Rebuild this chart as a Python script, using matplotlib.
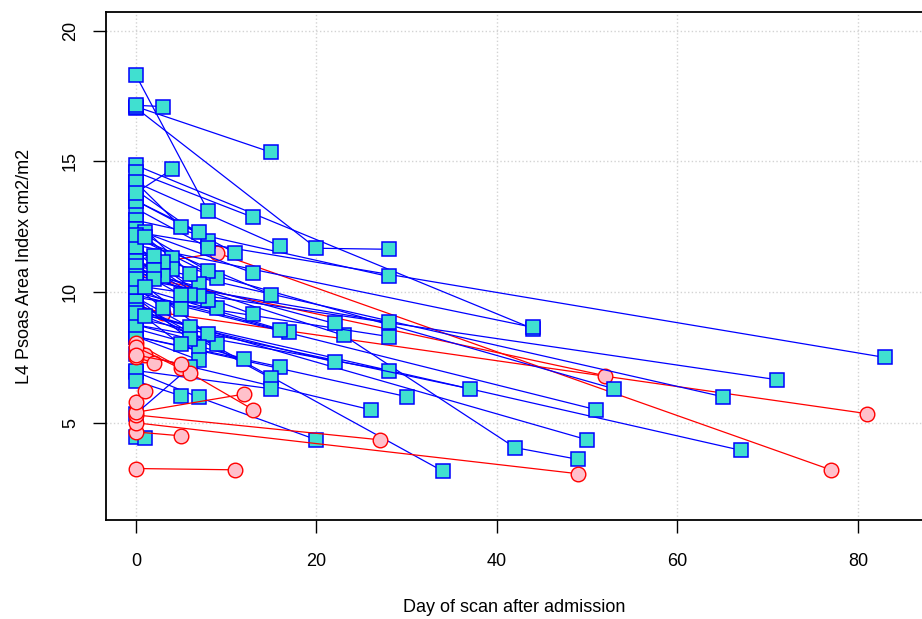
import matplotlib.pyplot as plt

# blue = squares, red = circles; one list of scan days / values per patient
blue_days = [
    [0, 83], [0, 71], [0, 67], [0, 65], [0, 53], [0, 51], [0, 50], [0, 23, 42, 49],
    [0, 44], [0, 44], [0, 20, 28], [0, 28], [0, 28], [0, 28], [0, 28], [0, 37],
    [0, 34], [0, 30], [0, 26], [0, 22], [0, 22], [0, 7, 20], [0, 17], [0, 16],
    [0, 16], [0, 16], [0, 15], [0, 15], [0, 15], [0, 15], [0, 13], [0, 13],
    [0, 13], [0, 12], [0, 11], [0, 9], [0, 9], [0, 9], [0, 8], [0, 8],
    [0, 8], [0, 8], [0, 8], [0, 8], [0, 7], [0, 7], [0, 7], [0, 7],
    [0, 7], [0, 6], [0, 6], [0, 6], [0, 6], [0, 6], [0, 5], [0, 5],
    [0, 5], [0, 5], [0, 5], [0, 4], [0, 4], [0, 4], [0, 3], [0, 3],
    [0, 3], [0, 3], [0, 2], [0, 2], [0, 2], [0, 1], [0, 1], [0, 1],
    [0, 1], [0, 1],
]
blue_vals = [
    [12.3, 7.5], [10.25, 6.65], [9.2, 3.95], [11.1, 6.0], [11.5, 6.3], [9.9, 5.5], [9.3, 4.35], [10.9, 8.35, 4.05, 3.6],
    [14.85, 8.6], [11.8, 8.65], [17.05, 11.68, 11.64], [12.75, 10.6], [10.5, 8.85], [9.8, 8.3], [8.75, 7.0], [9.0, 6.3],
    [9.6, 3.15], [8.3, 6.0], [7.65, 5.5], [10.85, 8.8], [9.2, 7.33], [6.95, 5.97, 4.35], [10.2, 8.47], [14.2, 11.75],
    [10.0, 8.55], [8.3, 7.14], [17.1, 15.35], [12.1, 9.9], [9.5, 6.7], [7.0, 6.3], [14.6, 12.86], [12.4, 10.73],
    [10.8, 9.15], [8.6, 7.45], [13.5, 11.5], [12.1, 10.55], [11.2, 9.4], [9.2, 8.0], [18.3, 13.1], [13.9, 11.95],
    [13.2, 11.7], [12.4, 10.8], [11.7, 9.7], [10.5, 8.4], [13.5, 12.3], [11.2, 10.3], [11.5, 9.85], [9.8, 7.9],
    [8.3, 7.4], [12.75, 10.7], [11.0, 9.9], [9.8, 8.65], [8.75, 8.2], [5.35, 7.14], [14.2, 12.5], [10.85, 9.9],
    [10.2, 9.35], [9.3, 8.0], [6.6, 6.03], [13.8, 14.7], [12.4, 11.3], [11.7, 10.9], [17.15, 17.1], [11.7, 11.15],
    [11.2, 10.6], [10.2, 9.38], [11.2, 11.4], [11.0, 10.85], [10.6, 10.5], [12.4, 12.3], [12.2, 12.1], [10.5, 10.2],
    [9.2, 9.08], [4.45, 4.42],
]

red_days = [
    [0, 11], [0, 5], [0, 49], [0, 27], [0, 12], [0, 81], [0, 9, 77], [0, 52],
    [0, 5, 13], [0, 1], [0, 1], [0, 2], [0, 6], [0, 5], [0, 3],
]
red_vals = [
    [3.25, 3.2], [4.65, 4.5], [5.0, 3.05], [5.3, 4.35], [5.4, 6.1], [9.35, 5.35], [11.0, 11.5, 3.2], [10.65, 6.8],
    [8.05, 7.1, 5.5], [5.8, 6.2], [7.7, 7.6], [7.5, 7.3], [7.9, 6.9], [7.6, 7.25], [9.5, 9.2],
]

xticks = [0, 20, 40, 60, 80]
yticks = [5, 10, 15, 20]

plt.rcParams['font.family'] = ['Liberation Sans', 'DejaVu Sans']

fig = plt.figure(figsize=(9.22, 6.19), dpi=100)
ax = fig.add_axes([106 / 922, 99 / 619, 1 - 106 / 922, 508 / 619])

for d, v in zip(blue_days, blue_vals):
    ax.plot(d, v, color='blue', lw=0.9, marker='s', ms=9.5, mfc='#40E0D0',
            mec='blue', mew=1.1, zorder=3)
for d, v in zip(red_days, red_vals):
    # patients starting high sit behind the blue cluster, like the original
    z = 2 if v[0] > 9 else 4
    ax.plot(d, v, color='red', lw=0.9, marker='o', ms=10.5, mfc='pink',
            mec='red', mew=1.0, zorder=z)

ax.set_xlim(-3.32, 87.1)
ax.set_ylim(1.28, 20.72)
ax.set_xticks(xticks)
ax.set_yticks(yticks)
ax.grid(True, color='lightgray', linestyle=':', linewidth=1.0)
ax.set_axisbelow(True)

ax.spines['right'].set_visible(False)
for s in ['left', 'bottom', 'top']:
    ax.spines[s].set_linewidth(1.3)

ax.tick_params(direction='out', length=9.5, width=1, labelsize=13, pad=10)
ax.tick_params(axis='x', pad=14)
for lab in ax.get_yticklabels():
    lab.set_rotation(90)
    lab.set_va('center')

ax.set_xlabel('Day of scan after admission', fontsize=13, labelpad=21)
ax.set_ylabel('L4 Psoas Area Index cm2/m2', fontsize=13, labelpad=21)

fig.savefig('out.png', dpi=100)
